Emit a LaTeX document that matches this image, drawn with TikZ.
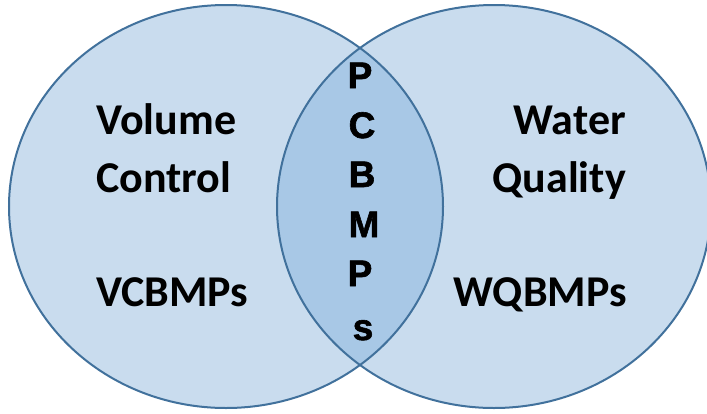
\documentclass[tikz,border=0pt]{standalone}
\usepackage{fontspec}
\setmainfont{Carlito}
\newfontfamily\arialfont[BoldFeatures={FakeBold=1.6}]{Liberation Sans}
\definecolor{lightfill}{HTML}{C9DCEE}
\definecolor{lensfill}{HTML}{A8C8E6}
\definecolor{edgeblue}{HTML}{41719C}
\begin{document}
\begin{tikzpicture}[x=1pt,y=-1pt,
  txtlabel/.style={font=\fontsize{44}{44}\selectfont\bfseries, inner sep=0pt},
  letter/.style={font=\arialfont\bfseries\fontsize{37}{37}\selectfont, inner sep=0pt, anchor=base}]
\useasboundingbox (0,0) rectangle (707,413);
\clip (0,0) rectangle (707,413);
\fill[white] (0,0) rectangle (707,413);
\def\leftell{(226,206.5) ellipse [x radius=217, y radius=201.5]}
\def\rightell{(494,206.5) ellipse [x radius=217, y radius=201.5]}
\fill[lightfill] \leftell;
\fill[lightfill] \rightell;
\begin{scope}
  \clip \leftell;
  \fill[lensfill] \rightell;
\end{scope}
\draw[edgeblue, line width=2pt] \leftell;
\draw[edgeblue, line width=2pt] \rightell;
\node[txtlabel, anchor=base west] (vol) at (96,134) {Volume};
\node[txtlabel, anchor=base west] (con) at (96,192) {Control};
\node[txtlabel, anchor=base west] (vc) at (96,306) {VCBMPs};
\node[txtlabel, anchor=base east] (wat) at (626,134) {Water};
\node[txtlabel, anchor=base east] (qual) at (626,192) {Quality};
\node[txtlabel, anchor=base east] (wq) at (627,306) {WQBMPs};
\node[letter] (l1) at (360,88) {P};
\node[letter] (l2) at (362,138) {C};
\node[letter] (l3) at (362,187) {B};
\node[letter] (l4) at (364,237) {M};
\node[letter] (l5) at (360,286) {P};
\node[letter] (l6) at (363,340) {s};
\end{tikzpicture}
\end{document}
